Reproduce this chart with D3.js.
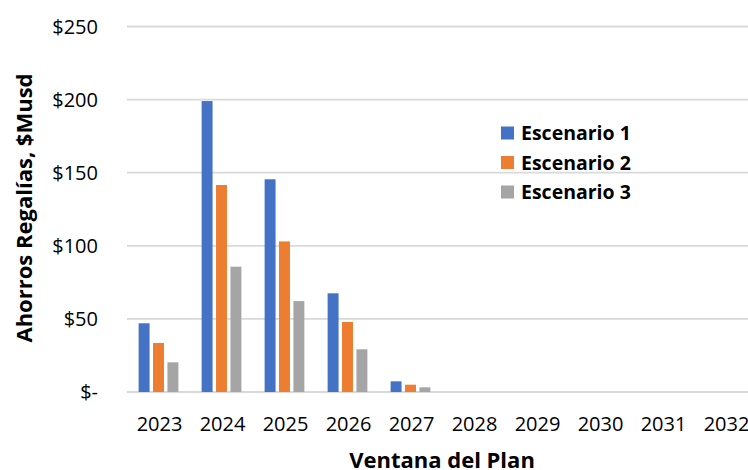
<!DOCTYPE html>
<html><head><meta charset="utf-8">
<script src="https://cdn.jsdelivr.net/npm/d3@7"></script>
<style>body{margin:0;background:#fff;overflow:hidden}text{font-family:"Open Sans",sans-serif}</style>
</head><body><svg id="c" width="748" height="470"></svg>
<script>
const years = ["2023","2024","2025","2026","2027","2028","2029","2030","2031","2032"];
const seriesNames = ["Escenario 1","Escenario 2","Escenario 3"];
const escenario1 = [47, 199, 145.5, 67.5, 7.3, 0, 0, 0, 0, 0];
const escenario2 = [33.5, 141.6, 103, 47.9, 5, 0, 0, 0, 0, 0];
const escenario3 = [20.3, 85.7, 62.2, 29.2, 3.2, 0, 0, 0, 0, 0];
const yTicks = [0, 50, 100, 150, 200, 250];
const colors = ["#4472C4", "#ED7D31", "#A5A5A5"];
const seriesValues = [escenario1, escenario2, escenario3];

const svg = d3.select("#c");
const x0 = d3.scaleBand().domain(years).range([127, 757]).paddingInner(0).paddingOuter(0);
const x1 = d3.scaleBand().domain(seriesNames).range([9.9, 9.9 + 43.2]).paddingInner(0.24).paddingOuter(0.12);
const y = d3.scaleLinear().domain([0, 250]).range([392, 26.5]);

svg.append("g").selectAll("line").data(yTicks).join("line")
  .attr("x1", 127).attr("x2", 757)
  .attr("y1", d => y(d)).attr("y2", d => y(d))
  .attr("stroke", "#d9d9d9").attr("stroke-width", 1.8);

svg.append("g").selectAll("text").data(yTicks).join("text")
  .attr("x", 98).attr("y", d => y(d)).attr("dy", "0.36em")
  .attr("text-anchor", "end").attr("font-size", 20).attr("fill", "#000")
  .text(d => d === 0 ? "$-" : "$" + d);

const groups = svg.append("g").selectAll("g").data(years).join("g")
  .attr("transform", d => `translate(${x0(d)},0)`);
groups.selectAll("rect").data((d, i) => seriesNames.map((s, k) => ({s, k, v: seriesValues[k][i]})))
  .join("rect")
  .attr("x", d => x1(d.s)).attr("width", x1.bandwidth())
  .attr("y", d => y(d.v)).attr("height", d => y(0) - y(d.v))
  .attr("fill", d => colors[d.k]);

svg.append("g").selectAll("text").data(years).join("text")
  .attr("x", d => x0(d) + x0.bandwidth() / 2 + 1).attr("y", 424).attr("dy", "0.36em")
  .attr("text-anchor", "middle").attr("font-size", 20).attr("fill", "#000")
  .text(d => d);

svg.append("text").attr("x", 442).attr("y", 468)
  .attr("text-anchor", "middle").attr("font-size", 22).attr("font-weight", "bold")
  .text("Ventana del Plan");
svg.append("text").attr("transform", "translate(24,208) rotate(-90)").attr("dy", "0.36em")
  .attr("text-anchor", "middle").attr("font-size", 22).attr("font-weight", "bold")
  .text("Ahorros Regalías, $Musd");

const lg = svg.append("g").selectAll("g").data(seriesNames).join("g")
  .attr("transform", (d, i) => `translate(501,${133 + i * 29.5})`);
lg.append("rect").attr("x", 0).attr("y", -6.5).attr("width", 13).attr("height", 13)
  .attr("fill", (d, i) => colors[i]);
lg.append("text").attr("x", 20).attr("dy", "0.36em").attr("font-size", 19.5)
  .attr("font-weight", "bold").text(d => d);
</script></body></html>
